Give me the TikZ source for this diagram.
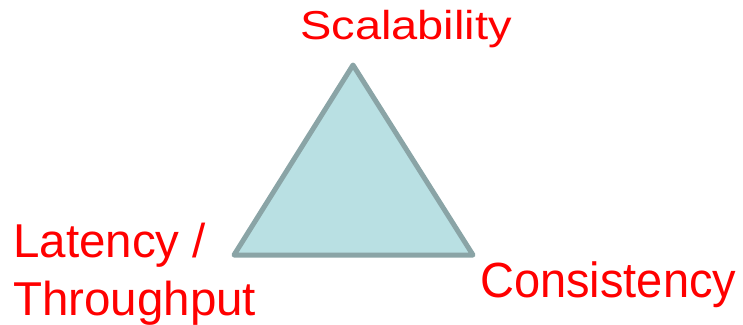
\documentclass[tikz,border=0pt]{standalone}
\usepackage{fontspec}
\setmainfont{Liberation Sans}
\definecolor{trifill}{HTML}{B9E0E3}
\definecolor{triedge}{HTML}{8AA4A6}
\definecolor{lblred}{HTML}{FF0000}
\begin{document}
\begin{tikzpicture}[x=1pt,y=-1pt,
  lbl/.style={text=lblred,font=\fontsize{47.5}{58}\selectfont,inner sep=0pt,anchor=base west,align=left},
  tri/.style={fill=trifill,draw=triedge,line width=5pt,line join=round}]
\useasboundingbox (0,0) rectangle (743,324);
\coordinate (top) at (353,65);
\coordinate (bl) at (234,255);
\coordinate (br) at (473,255);
\draw[tri] (top) -- (bl) -- (br) -- cycle;
\node[lbl,xscale=0.99,yscale=0.85] (scal) at (300,39) {Scalability};
\node[lbl,xscale=0.99,yscale=1.04] (cons) at (480,297.5) {Consistency};
\node[lbl] (lat) at (13,257) {Latency /};
\node[lbl] (thr) at (13,315) {Throughput};
\end{tikzpicture}
\end{document}
